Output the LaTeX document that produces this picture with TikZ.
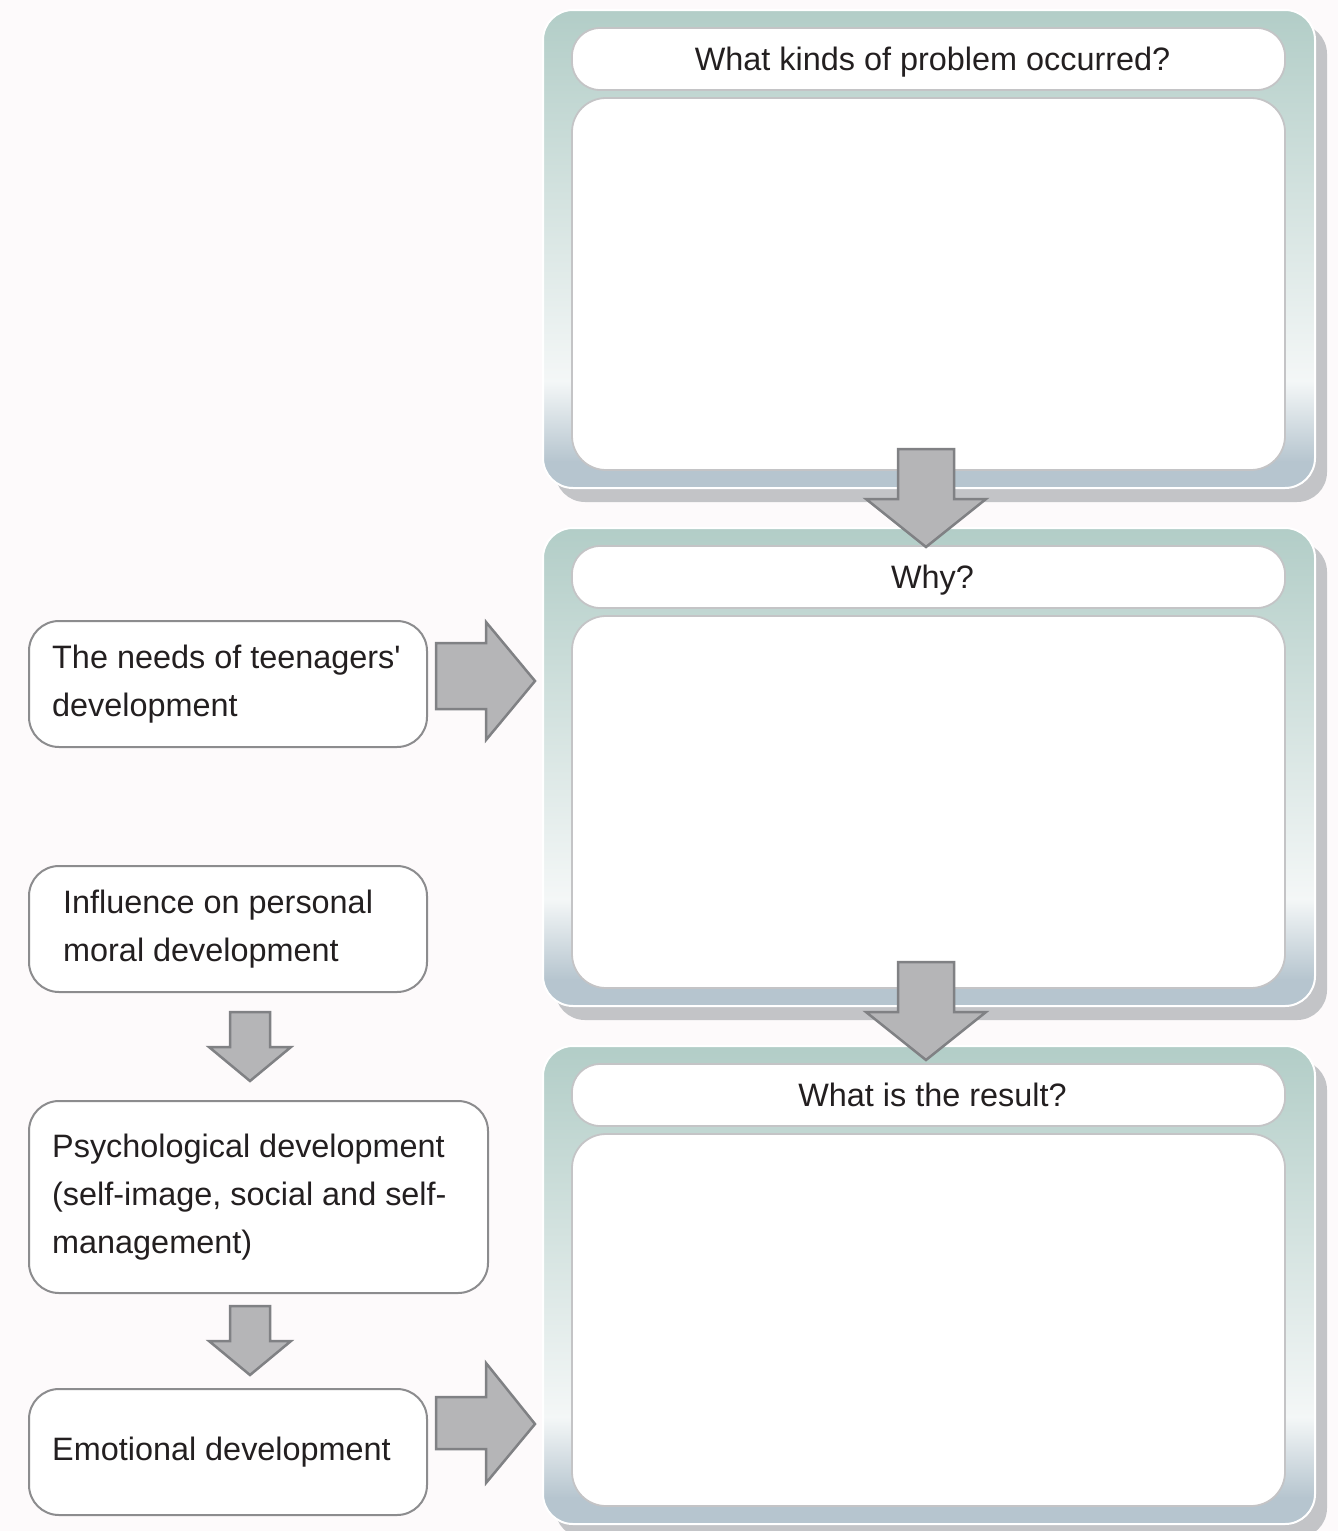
\documentclass[tikz,border=0pt]{standalone}
\usepackage{fontspec}
\setmainfont{Liberation Sans}
\definecolor{bg}{RGB}{253,250,251}
\definecolor{pteal}{RGB}{178,205,199}
\definecolor{pwhite}{RGB}{244,247,247}
\definecolor{pblue}{RGB}{182,197,207}
\definecolor{pshadow}{RGB}{195,196,199}
\definecolor{inborder}{RGB}{196,196,198}
\definecolor{arrfill}{RGB}{181,181,183}
\definecolor{arrdraw}{RGB}{128,129,132}
\definecolor{boxdraw}{RGB}{140,140,142}
\definecolor{txt}{RGB}{35,31,32}
\tikzset{
  bigfont/.style={font=\fontsize{32.4}{48}\selectfont, text=txt},
  header/.style={draw=inborder, line width=1.8pt, fill=white, rounded corners=28pt,
    minimum width=713pt, minimum height=62pt, inner sep=0pt, text height=23pt,
    text depth=0pt, bigfont},
  bodybox/.style={draw=inborder, line width=1.8pt, fill=white, rounded corners=34pt,
    minimum width=713pt, minimum height=372pt, inner sep=0pt},
  lboxshape/.style={draw=boxdraw, line width=2pt, fill=white, rounded corners=30pt,
    anchor=north west, inner sep=0pt},
  ltext/.style={align=left, anchor=west, inner sep=0pt, bigfont},
  barrow/.style={fill=arrfill, draw=arrdraw, line width=2.5pt, line join=miter},
}
\newcommand\drawpanel[3]{%
  \fill[pshadow, rounded corners=30pt] (555,#1+14) rectangle (1327,#1+492);
  \begin{scope}
    \clip[rounded corners=30pt] (543,#1) rectangle (1315,#1+478);
    \shade[top color=pteal, bottom color=pwhite] (543,#1-1) rectangle (1315,#1+372);
    \shade[top color=pwhite, bottom color=pblue] (543,#1+371) rectangle (1315,#1+452);
    \fill[pblue] (543,#1+451) rectangle (1315,#1+479);
  \end{scope}
  \draw[white, line width=2pt, rounded corners=30pt] (543,#1) rectangle (1315,#1+478);
  \node[header] (#2h) at (928.5,#1+49) {\hspace*{8pt}#3};
  \node[bodybox] (#2b) at (928.5,#1+274) {};
}
\newcommand\downblock[7]{% cx, top, shaft half, head half, base, tip, name
  \draw[barrow] (#1-#3,#2) -- (#1+#3,#2) -- (#1+#3,#5) -- (#1+#4,#5)
    -- (#1,#6) coordinate (#7) -- (#1-#4,#5) -- (#1-#3,#5) -- cycle;
}
\newcommand\leftbox[7]{% name, x0, y0, w, h, text indent, text
  \node[lboxshape, minimum width=#4pt, minimum height=#5pt] (#1) at (#2,#3) {};
  \node[ltext] (#1t) at ([xshift=#6pt]#1.west) {#7};
}
\begin{document}
\begin{tikzpicture}[x=1pt,y=-1pt]
\fill[bg] (0,0) rectangle (1338,1531);
\useasboundingbox (0,0) rectangle (1338,1531);

% right panels
\drawpanel{10}{pa}{What kinds of problem occurred?}
\drawpanel{528}{pb}{Why?}
\drawpanel{1046}{pc}{What is the result?}

% arrows between panels
\downblock{926}{449}{28}{60}{499}{547}{tipa}
\downblock{926}{962}{28}{60}{1012}{1060}{tipb}

% left boxes
\leftbox{needs}{28}{620}{398}{126}{24}{The needs of teenagers\textquotesingle\\development}
\leftbox{moral}{28}{865}{398}{126}{35}{Influence on personal\\moral development}
\leftbox{psych}{28}{1100}{459}{192}{24}{Psychological development\\(self-image, social and self-\\management)}
\leftbox{emo}{28}{1388}{398}{126}{24}{Emotional development}

% small down arrows
\downblock{250}{1012}{20}{41}{1047}{1081}{tipc}
\downblock{250}{1306}{20}{41}{1341}{1375}{tipd}

% right block arrows
\draw[barrow] (436,643) -- (486,643) -- (486,622) -- (535,681) coordinate (tipe)
  -- (486,740) -- (486,709) -- (436,709) -- cycle;
\draw[barrow] (436,1397) -- (486,1397) -- (486,1363) -- (535,1424) coordinate (tipf)
  -- (486,1483) -- (486,1449) -- (436,1449) -- cycle;
\end{tikzpicture}
\end{document}
